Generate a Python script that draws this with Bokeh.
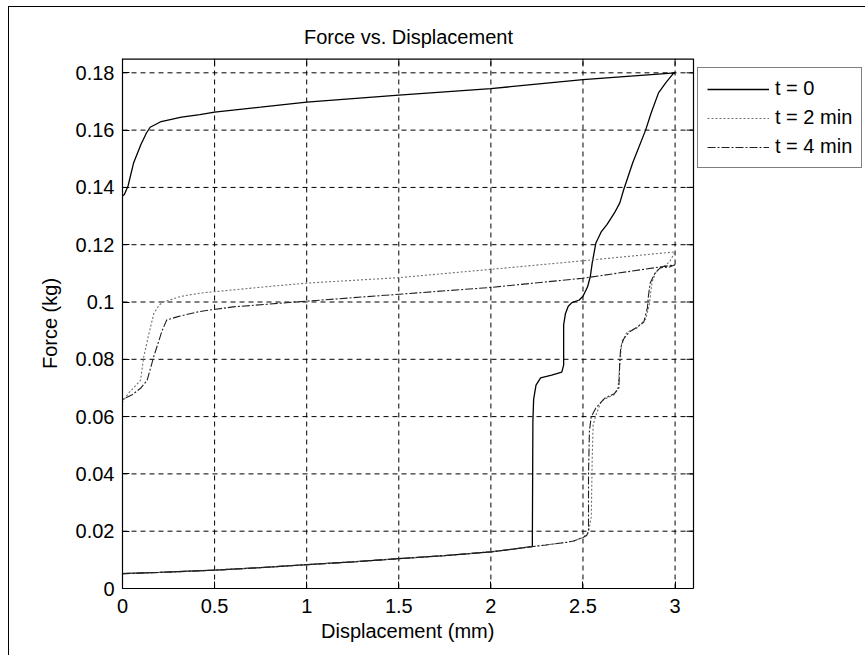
from bokeh.plotting import figure
from bokeh.models import ColumnDataSource, FixedTicker, Legend, LegendItem, Range1d, Title
from bokeh.embed import file_html
from bokeh.resources import INLINE

FONT = "Liberation Sans"
FS = "20px"
TITLE = "Force vs. Displacement"
X_LABEL = "Displacement (mm)"
Y_LABEL = "Force (kg)"
SERIES_NAMES = ["t = 0", "t = 2 min", "t = 4 min"]

X_MAX = 3.1
Y_MAX = 0.185
X_TICKS = [0, 0.5, 1, 1.5, 2, 2.5, 3]
X_TICK_LABELS = ["0", "0.5", "1", "1.5", "2", "2.5", "3"]
Y_TICKS = [0, 0.02, 0.04, 0.06, 0.08, 0.1, 0.12, 0.14, 0.16, 0.18]
Y_TICK_LABELS = ["0", "0.02", "0.04", "0.06", "0.08", "0.1", "0.12", "0.14", "0.16", "0.18"]

# common loading branch (all three tests)
base_x = [0, 0.2, 0.5, 0.75, 1.0, 1.25, 1.5, 1.75, 2.0, 2.1, 2.22]
base_y = [0.0052, 0.0056, 0.0064, 0.0073, 0.0083, 0.0093, 0.0104, 0.0115, 0.0128, 0.0136, 0.0146]
base2_x = [2.3, 2.4, 2.45, 2.5]
base2_y = [0.0152, 0.0160, 0.0166, 0.0178]

# t = 0
t0_load_x = [2.225, 2.228, 2.232, 2.245, 2.27, 2.33, 2.385, 2.395, 2.395, 2.405, 2.42, 2.44, 2.48,
             2.50, 2.525, 2.54, 2.55, 2.57, 2.60, 2.63, 2.67, 2.70, 2.72, 2.77, 2.84, 2.87,
             2.91, 2.95, 2.99, 3.0]
t0_load_y = [0.0146, 0.058, 0.066, 0.071, 0.0735, 0.0745, 0.0755, 0.078, 0.092, 0.096, 0.0985,
             0.0998, 0.1007, 0.102, 0.1053, 0.109, 0.1136, 0.1206, 0.1246, 0.127, 0.131, 0.1346,
             0.139, 0.1486, 0.160, 0.166, 0.173, 0.1766, 0.1797, 0.180]
t0_unload_x = [2.5, 2.0, 1.5, 1.0, 0.75, 0.5, 0.42, 0.32, 0.21, 0.15, 0.13, 0.10, 0.06, 0.03, 0.01, 0]
t0_unload_y = [0.1776, 0.1745, 0.1722, 0.1698, 0.168, 0.1663, 0.1654, 0.1645, 0.163, 0.161,
               0.159, 0.155, 0.1485, 0.1405, 0.1375, 0.137]

# t = 2 min
t2_load_x = [2.53, 2.545, 2.55, 2.555, 2.57, 2.60, 2.64, 2.67, 2.69, 2.70, 2.71, 2.74, 2.79,
             2.84, 2.86, 2.875, 2.90, 2.94, 2.97, 3.0]
t2_load_y = [0.0196, 0.025, 0.045, 0.057, 0.0605, 0.0655, 0.0668, 0.0677, 0.070, 0.078, 0.086,
             0.0895, 0.0908, 0.094, 0.099, 0.107, 0.111, 0.1125, 0.114, 0.1175]
t2_unload_x = [2.5, 2.0, 1.5, 1.0, 0.79, 0.5, 0.42, 0.32, 0.225, 0.2, 0.17, 0.14, 0.115, 0.098,
               0.06, 0.03, 0]
t2_unload_y = [0.1144, 0.1114, 0.1085, 0.1066, 0.1054, 0.1036, 0.1031, 0.102, 0.1001, 0.099,
               0.096, 0.088, 0.0808, 0.0727, 0.070, 0.068, 0.065]

# t = 4 min
t4_load_x = [2.52, 2.53, 2.53, 2.535, 2.545, 2.57, 2.62, 2.67, 2.695, 2.70, 2.705, 2.72, 2.75,
             2.80, 2.83, 2.85, 2.855, 2.865, 2.89, 2.92, 2.97, 3.0]
t4_load_y = [0.0185, 0.020, 0.040, 0.055, 0.060, 0.063, 0.0665, 0.068, 0.070, 0.080, 0.084,
             0.087, 0.0895, 0.0915, 0.093, 0.098, 0.102, 0.1066, 0.110, 0.112, 0.1122, 0.113]
t4_unload_x = [2.5, 2.0, 1.5, 1.0, 0.6, 0.42, 0.3, 0.24, 0.215, 0.17, 0.134, 0.1, 0.05, 0]
t4_unload_y = [0.1083, 0.1051, 0.1027, 0.1003, 0.0983, 0.0967, 0.0949, 0.0937, 0.090, 0.081,
               0.0727, 0.070, 0.0675, 0.066]

s0 = ColumnDataSource(dict(x=base_x + t0_load_x + t0_unload_x,
                           y=base_y + t0_load_y + t0_unload_y))
s2 = ColumnDataSource(dict(x=base_x + base2_x + t2_load_x + t2_unload_x,
                           y=base_y + base2_y + t2_load_y + t2_unload_y))
s4 = ColumnDataSource(dict(x=base_x + base2_x + t4_load_x + t4_unload_x,
                           y=base_y + base2_y + t4_load_y + t4_unload_y))

# layout (pixels): the canvas frame runs to the right edge so the legend can sit
# beside the axes box; the box itself is 571 px wide.
W, H = 857, 649
ML, MT, MB = 113, 51, 68
BOX_W = 571
frame_w = W - ML
frame_h = H - MT - MB
X_END = X_MAX * frame_w / BOX_W

p = figure(width=W, height=H, output_backend="svg", toolbar_location=None,
           x_range=Range1d(0, X_END), y_range=Range1d(0, Y_MAX),
           min_border_left=ML, min_border_right=0, min_border_top=MT, min_border_bottom=MB,
           title=TITLE)
p.styles = {"border-left": "1px solid black", "border-top": "1px solid black",
            "margin-left": "8px", "margin-top": "6px"}
p.background_fill_color = "white"
p.border_fill_color = "white"
p.outline_line_color = None
p.xgrid.visible = False
p.ygrid.visible = False

p.title.text_font = FONT
p.title.text_font_size = FS
p.title.text_font_style = "normal"
p.title.align = "left"
p.title.offset = BOX_W / 2 - 104
p.title.text_color = "black"
p.title.standoff = 22

xt = FixedTicker(ticks=X_TICKS)
yt = FixedTicker(ticks=Y_TICKS)

def style_axis(ax, ticker, labels, ticks):
    ax.ticker = ticker
    ax.major_tick_in = 7
    ax.major_tick_out = 0
    ax.minor_tick_in = 0
    ax.minor_tick_out = 0
    ax.major_tick_line_color = "black"
    ax.axis_line_color = "black"
    ax.axis_line_width = 1.2
    ax.major_label_overrides = {t: l for t, l in zip(ticks, labels)}
    ax.major_label_text_font = FONT
    ax.major_label_text_font_size = FS
    ax.major_label_text_color = "black"
    ax.axis_label_text_font = FONT
    ax.axis_label_text_font_size = FS
    ax.axis_label_text_font_style = "normal"
    ax.axis_label_text_color = "black"

style_axis(p.xaxis[0], xt, X_TICK_LABELS, X_TICKS)
style_axis(p.yaxis[0], yt, Y_TICK_LABELS, Y_TICKS)
p.xaxis[0].bounds = (0, X_MAX)
p.yaxis[0].bounds = (0, Y_MAX)
p.yaxis[0].axis_label = Y_LABEL
p.xaxis[0].major_label_standoff = 10
p.yaxis[0].major_label_standoff = 8
p.yaxis[0].axis_label_standoff = 12

# x-axis label centred under the axes box (not under the whole canvas frame)
xlab = Title(text=X_LABEL, align="left", offset=BOX_W / 2 - 87, standoff=4,
             text_font=FONT, text_font_size=FS, text_font_style="normal", text_color="black")
p.add_layout(xlab, "below")

# dashed grid, limited to the axes box (from the tick lists)
p.segment(x0=[0] * len(Y_TICKS), x1=[X_MAX] * len(Y_TICKS), y0=Y_TICKS, y1=Y_TICKS,
          line_color="black", line_width=1, line_dash="5 4")
p.segment(x0=X_TICKS, x1=X_TICKS, y0=[0] * len(X_TICKS), y1=[Y_MAX] * len(X_TICKS),
          line_color="black", line_width=1, line_dash="5 4")

# box: top and right edges, with inward ticks
tick_dx = 7 * X_END / frame_w
tick_dy = 7 * Y_MAX / frame_h
p.segment(x0=[0], x1=[X_MAX], y0=[Y_MAX], y1=[Y_MAX], line_color="black", line_width=2.4)
p.segment(x0=[X_MAX], x1=[X_MAX], y0=[0], y1=[Y_MAX], line_color="black", line_width=1.2)
p.segment(x0=X_TICKS, x1=X_TICKS, y0=[Y_MAX] * len(X_TICKS), y1=[Y_MAX - tick_dy] * len(X_TICKS),
          line_color="black", line_width=1)
p.segment(x0=[X_MAX] * len(Y_TICKS), x1=[X_MAX - tick_dx] * len(Y_TICKS), y0=Y_TICKS, y1=Y_TICKS,
          line_color="black", line_width=1)

r0 = p.line("x", "y", source=s0, line_color="black", line_width=1.3)
r2 = p.line("x", "y", source=s2, line_color="#707070", line_width=1.1, line_dash="2 2")
r4 = p.line("x", "y", source=s4, line_color="#202020", line_width=1.1, line_dash="8 2 2 2")

LEG_H = 96
legend = Legend(items=[LegendItem(label=SERIES_NAMES[0], renderers=[r0]),
                       LegendItem(label=SERIES_NAMES[1], renderers=[r2]),
                       LegendItem(label=SERIES_NAMES[2], renderers=[r4])],
                location=(BOX_W + 4, frame_h - 14 - LEG_H))
legend.border_line_color = "black"
legend.border_line_width = 1.2
legend.background_fill_color = "white"
legend.background_fill_alpha = 1
legend.label_text_font = FONT
legend.label_text_font_size = FS
legend.label_text_color = "black"
legend.glyph_width = 62
legend.glyph_height = 20
legend.label_height = 20
legend.spacing = 6
legend.padding = 9
legend.margin = 0
legend.label_standoff = 6
p.add_layout(legend, "center")

open("out.html", "w").write(file_html(p, INLINE))
